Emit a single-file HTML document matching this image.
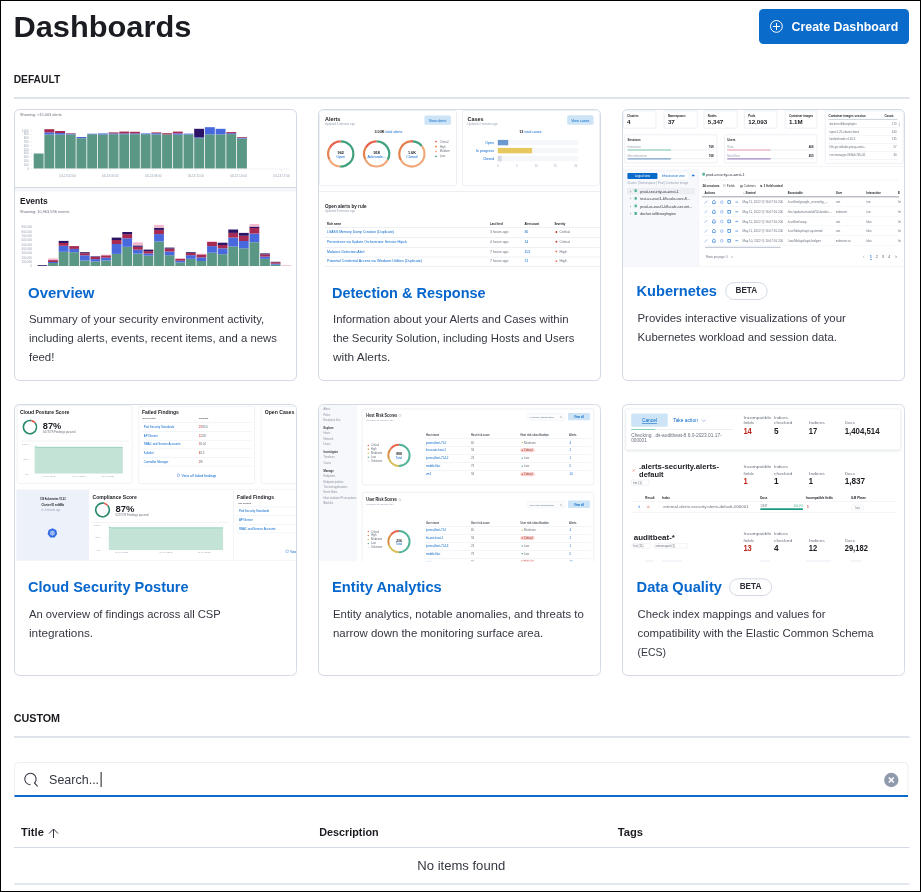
<!DOCTYPE html>
<html><head><meta charset="utf-8"><title>Dashboards</title>
<style>
html,body{margin:0;padding:0;background:#fff;width:921px;height:892px;overflow:hidden}
svg{position:absolute;left:0;top:0;display:block;font-family:'Liberation Sans', Arial, sans-serif}
</style></head><body>
<svg width="921" height="892" viewBox="0 0 921 892">
<text x="13.4" y="36.6" font-size="30" fill="#1A1C21" font-weight="700" textLength="178" lengthAdjust="spacingAndGlyphs">Dashboards</text>
<rect x="759" y="9" width="150" height="35" fill="#0B6BCB" rx="4.5"/>
<circle cx="776.4" cy="26.4" r="5.9" fill="none" stroke="#fff" stroke-width="1"/>
<path d="M776.5 23v7M773 26.5h7" stroke="#fff" stroke-width="1"/>
<text x="791.6" y="31" font-size="12.4" fill="#fff" font-weight="700" textLength="106.6" lengthAdjust="spacingAndGlyphs">Create Dashboard</text>
<text x="13.7" y="82.8" font-size="10.25" fill="#1A1C21" font-weight="700" textLength="46.5" lengthAdjust="spacingAndGlyphs">DEFAULT</text>
<rect x="14" y="97" width="895.5" height="2" fill="#DFE4EC"/>
<rect x="14.5" y="109.5" width="282" height="271" rx="5" fill="#fff" stroke="#D3DAE6" stroke-width="1"/>
<rect x="318.5" y="109.5" width="282" height="271" rx="5" fill="#fff" stroke="#D3DAE6" stroke-width="1"/>
<rect x="622.5" y="109.5" width="282" height="271" rx="5" fill="#fff" stroke="#D3DAE6" stroke-width="1"/>
<rect x="14.5" y="404.5" width="282" height="271" rx="5" fill="#fff" stroke="#D3DAE6" stroke-width="1"/>
<rect x="318.5" y="404.5" width="282" height="271" rx="5" fill="#fff" stroke="#D3DAE6" stroke-width="1"/>
<rect x="622.5" y="404.5" width="282" height="271" rx="5" fill="#fff" stroke="#D3DAE6" stroke-width="1"/>
<clipPath id="k0"><rect x="15" y="110" width="281" height="200" rx="4.5"/></clipPath><g clip-path="url(#k0)">
<text x="20" y="115.6" font-size="4" fill="#69707D" textLength="41.8" lengthAdjust="spacingAndGlyphs">Showing: &gt;15,003 alerts</text>
<text x="28.5" y="131.6" font-size="2.9" fill="#98A2B3" text-anchor="end">1000</text>
<path d="M30.5 130.5L32 130.5" stroke="#D8DCE3" stroke-width="0.5"/>
<text x="28.5" y="135.41" font-size="2.9" fill="#98A2B3" text-anchor="end">900</text>
<path d="M30.5 134.31L32 134.31" stroke="#D8DCE3" stroke-width="0.5"/>
<text x="28.5" y="139.22" font-size="2.9" fill="#98A2B3" text-anchor="end">800</text>
<path d="M30.5 138.12L32 138.12" stroke="#D8DCE3" stroke-width="0.5"/>
<text x="28.5" y="143.03" font-size="2.9" fill="#98A2B3" text-anchor="end">700</text>
<path d="M30.5 141.93L32 141.93" stroke="#D8DCE3" stroke-width="0.5"/>
<text x="28.5" y="146.84" font-size="2.9" fill="#98A2B3" text-anchor="end">600</text>
<path d="M30.5 145.74L32 145.74" stroke="#D8DCE3" stroke-width="0.5"/>
<text x="28.5" y="150.65" font-size="2.9" fill="#98A2B3" text-anchor="end">500</text>
<path d="M30.5 149.55L32 149.55" stroke="#D8DCE3" stroke-width="0.5"/>
<text x="28.5" y="154.46" font-size="2.9" fill="#98A2B3" text-anchor="end">400</text>
<path d="M30.5 153.36L32 153.36" stroke="#D8DCE3" stroke-width="0.5"/>
<text x="28.5" y="158.27" font-size="2.9" fill="#98A2B3" text-anchor="end">300</text>
<path d="M30.5 157.17L32 157.17" stroke="#D8DCE3" stroke-width="0.5"/>
<text x="28.5" y="162.08" font-size="2.9" fill="#98A2B3" text-anchor="end">200</text>
<path d="M30.5 160.98L32 160.98" stroke="#D8DCE3" stroke-width="0.5"/>
<text x="28.5" y="165.89" font-size="2.9" fill="#98A2B3" text-anchor="end">100</text>
<path d="M30.5 164.79L32 164.79" stroke="#D8DCE3" stroke-width="0.5"/>
<text x="28.5" y="169.7" font-size="2.9" fill="#98A2B3" text-anchor="end">0</text>
<path d="M30.5 168.6L32 168.6" stroke="#D8DCE3" stroke-width="0.5"/>
<rect x="33.7" y="153.5" width="9.9" height="15.1" fill="#5A9784"/>
<rect x="44.4" y="134.5" width="9.9" height="34.1" fill="#5A9784"/>
<rect x="44.4" y="132.4" width="9.9" height="2.1" fill="#4868DE"/>
<rect x="44.4" y="129.2" width="9.9" height="3.2" fill="#A62A52"/>
<rect x="55.1" y="134.5" width="9.9" height="34.1" fill="#5A9784"/>
<rect x="55.1" y="133" width="9.9" height="1.5" fill="#4868DE"/>
<rect x="55.1" y="131" width="9.9" height="2" fill="#A62A52"/>
<rect x="65.8" y="134.5" width="9.9" height="34.1" fill="#5A9784"/>
<rect x="65.8" y="133.7" width="9.9" height="0.8" fill="#4868DE"/>
<rect x="65.8" y="133.2" width="9.9" height="0.5" fill="#A62A52"/>
<rect x="76.5" y="138.2" width="9.9" height="30.4" fill="#5A9784"/>
<rect x="76.5" y="137" width="9.9" height="1.2" fill="#4868DE"/>
<rect x="87.2" y="134.2" width="9.9" height="34.4" fill="#5A9784"/>
<rect x="87.2" y="133.7" width="9.9" height="0.5" fill="#4868DE"/>
<rect x="97.9" y="134.5" width="9.9" height="34.1" fill="#5A9784"/>
<rect x="97.9" y="133.4" width="9.9" height="1.1" fill="#4868DE"/>
<rect x="108.6" y="134.2" width="9.9" height="34.4" fill="#5A9784"/>
<rect x="108.6" y="133.4" width="9.9" height="0.8" fill="#4868DE"/>
<rect x="108.6" y="132.4" width="9.9" height="1.0" fill="#A62A52"/>
<rect x="119.3" y="134.2" width="9.9" height="34.4" fill="#5A9784"/>
<rect x="119.3" y="133.4" width="9.9" height="0.8" fill="#4868DE"/>
<rect x="119.3" y="131.6" width="9.9" height="1.8" fill="#A62A52"/>
<rect x="130.0" y="134.2" width="9.9" height="34.4" fill="#5A9784"/>
<rect x="130.0" y="133.4" width="9.9" height="0.8" fill="#4868DE"/>
<rect x="130.0" y="131.8" width="9.9" height="1.6" fill="#A62A52"/>
<rect x="140.7" y="134.2" width="9.9" height="34.4" fill="#5A9784"/>
<rect x="140.7" y="133.4" width="9.9" height="0.8" fill="#4868DE"/>
<rect x="151.4" y="134.4" width="9.9" height="34.2" fill="#5A9784"/>
<rect x="151.4" y="133.2" width="9.9" height="1.2" fill="#4868DE"/>
<rect x="151.4" y="132.4" width="9.9" height="0.8" fill="#A62A52"/>
<rect x="162.1" y="134.4" width="9.9" height="34.2" fill="#5A9784"/>
<rect x="162.1" y="133.2" width="9.9" height="1.2" fill="#A62A52"/>
<rect x="172.8" y="134.7" width="9.9" height="33.9" fill="#5A9784"/>
<rect x="172.8" y="133.4" width="9.9" height="1.3" fill="#4868DE"/>
<rect x="172.8" y="131.6" width="9.9" height="1.8" fill="#A62A52"/>
<rect x="183.5" y="134.4" width="9.9" height="34.2" fill="#5A9784"/>
<rect x="183.5" y="133.6" width="9.9" height="0.8" fill="#4868DE"/>
<rect x="194.2" y="138.1" width="9.9" height="30.5" fill="#5A9784"/>
<rect x="194.2" y="137.3" width="9.9" height="0.8" fill="#4868DE"/>
<rect x="194.2" y="128.8" width="9.9" height="8.5" fill="#2B1466"/>
<rect x="204.9" y="134.4" width="9.9" height="34.2" fill="#5A9784"/>
<rect x="204.9" y="127.2" width="9.9" height="7.2" fill="#4868DE"/>
<rect x="215.6" y="134.4" width="9.9" height="34.2" fill="#5A9784"/>
<rect x="215.6" y="128.8" width="9.9" height="5.6" fill="#4868DE"/>
<rect x="226.3" y="134.1" width="9.9" height="34.5" fill="#5A9784"/>
<rect x="226.3" y="133.2" width="9.9" height="0.9" fill="#4868DE"/>
<rect x="226.3" y="132.1" width="9.9" height="1.1" fill="#A62A52"/>
<rect x="237.0" y="138.5" width="9.9" height="30.1" fill="#5A9784"/>
<rect x="237.0" y="137.7" width="9.9" height="0.8" fill="#4868DE"/>
<rect x="237.0" y="137" width="9.9" height="0.7" fill="#A62A52"/>
<path d="M33 168.9L290 168.9" stroke="#E6E9EE" stroke-width="0.5"/>
<path d="M67.7 169.5L67.7 171" stroke="#C9CED6" stroke-width="0.5"/>
<text x="67.7" y="177.3" font-size="3.1" fill="#98A2B3" text-anchor="middle">03-13 02:00</text>
<path d="M110.3 169.5L110.3 171" stroke="#C9CED6" stroke-width="0.5"/>
<text x="110.3" y="177.3" font-size="3.1" fill="#98A2B3" text-anchor="middle">03-13 05:00</text>
<path d="M153.2 169.5L153.2 171" stroke="#C9CED6" stroke-width="0.5"/>
<text x="153.2" y="177.3" font-size="3.1" fill="#98A2B3" text-anchor="middle">03-13 08:00</text>
<path d="M195.8 169.5L195.8 171" stroke="#C9CED6" stroke-width="0.5"/>
<text x="195.8" y="177.3" font-size="3.1" fill="#98A2B3" text-anchor="middle">03-13 11:00</text>
<path d="M238.4 169.5L238.4 171" stroke="#C9CED6" stroke-width="0.5"/>
<text x="238.4" y="177.3" font-size="3.1" fill="#98A2B3" text-anchor="middle">03-13 14:00</text>
<path d="M281.6 169.5L281.6 171" stroke="#C9CED6" stroke-width="0.5"/>
<text x="281.6" y="177.3" font-size="3.1" fill="#98A2B3" text-anchor="middle">03-13 17:00</text>
<rect x="15" y="187" width="281" height="1" fill="#D4D7DD"/>
<rect x="15" y="188" width="281" height="3.5" fill="#F4F5F8"/>
<text x="20" y="204" font-size="8.6" fill="#1A1C21" font-weight="700" textLength="27.8" lengthAdjust="spacingAndGlyphs">Events</text>
<text x="20" y="212.8" font-size="4" fill="#69707D" textLength="49.5" lengthAdjust="spacingAndGlyphs">Showing: 10,963,596 events</text>
<text x="32" y="228.4" font-size="2.9" fill="#98A2B3" text-anchor="end">900,000</text>
<text x="32" y="232.7" font-size="2.9" fill="#98A2B3" text-anchor="end">800,000</text>
<text x="32" y="237.0" font-size="2.9" fill="#98A2B3" text-anchor="end">700,000</text>
<text x="32" y="241.3" font-size="2.9" fill="#98A2B3" text-anchor="end">600,000</text>
<text x="32" y="245.6" font-size="2.9" fill="#98A2B3" text-anchor="end">500,000</text>
<text x="32" y="249.9" font-size="2.9" fill="#98A2B3" text-anchor="end">400,000</text>
<text x="32" y="254.2" font-size="2.9" fill="#98A2B3" text-anchor="end">300,000</text>
<text x="32" y="258.5" font-size="2.9" fill="#98A2B3" text-anchor="end">200,000</text>
<text x="32" y="262.8" font-size="2.9" fill="#98A2B3" text-anchor="end">100,000</text>
<text x="32" y="267.1" font-size="2.9" fill="#98A2B3" text-anchor="end">0</text>
<rect x="37.5" y="265.2" width="9.8" height="0.8" fill="#2B1466"/>
<rect x="48.1" y="263.0" width="9.8" height="3.0" fill="#5A9784"/>
<rect x="48.1" y="262" width="9.8" height="1.0" fill="#4868DE"/>
<rect x="48.1" y="260.1" width="9.8" height="1.9" fill="#A62A52"/>
<rect x="48.1" y="258.4" width="9.8" height="1.7" fill="#F2B8CB"/>
<rect x="58.7" y="251.8" width="9.8" height="14.2" fill="#5A9784"/>
<rect x="58.7" y="245.8" width="9.8" height="6.0" fill="#4868DE"/>
<rect x="58.7" y="243" width="9.8" height="2.8" fill="#A62A52"/>
<rect x="58.7" y="240.9" width="9.8" height="2.1" fill="#2B1466"/>
<rect x="69.3" y="252.2" width="9.8" height="13.8" fill="#5A9784"/>
<rect x="69.3" y="248.9" width="9.8" height="3.3" fill="#4868DE"/>
<rect x="69.3" y="246.1" width="9.8" height="2.8" fill="#A62A52"/>
<rect x="79.9" y="260.5" width="9.8" height="5.5" fill="#5A9784"/>
<rect x="79.9" y="255.3" width="9.8" height="5.2" fill="#4868DE"/>
<rect x="79.9" y="253.2" width="9.8" height="2.1" fill="#A62A52"/>
<rect x="79.9" y="252.2" width="9.8" height="1.0" fill="#2B1466"/>
<rect x="90.5" y="261.4" width="9.8" height="4.6" fill="#5A9784"/>
<rect x="90.5" y="259.1" width="9.8" height="2.3" fill="#4868DE"/>
<rect x="90.5" y="257" width="9.8" height="2.1" fill="#A62A52"/>
<rect x="90.5" y="256.4" width="9.8" height="0.6" fill="#2B1466"/>
<rect x="101.1" y="260.5" width="9.8" height="5.5" fill="#5A9784"/>
<rect x="101.1" y="257.7" width="9.8" height="2.8" fill="#4868DE"/>
<rect x="101.1" y="255.3" width="9.8" height="2.4" fill="#A62A52"/>
<rect x="101.1" y="254.7" width="9.8" height="0.6" fill="#F2B8CB"/>
<rect x="111.7" y="253.9" width="9.8" height="12.1" fill="#5A9784"/>
<rect x="111.7" y="244" width="9.8" height="9.9" fill="#4868DE"/>
<rect x="111.7" y="240" width="9.8" height="4" fill="#A62A52"/>
<rect x="111.7" y="237.6" width="9.8" height="2.4" fill="#2B1466"/>
<rect x="122.3" y="246.8" width="9.8" height="19.2" fill="#5A9784"/>
<rect x="122.3" y="238.3" width="9.8" height="8.5" fill="#4868DE"/>
<rect x="122.3" y="234.1" width="9.8" height="4.2" fill="#A62A52"/>
<rect x="122.3" y="232" width="9.8" height="2.1" fill="#2B1466"/>
<rect x="132.9" y="253.6" width="9.8" height="12.4" fill="#5A9784"/>
<rect x="132.9" y="249.7" width="9.8" height="3.9" fill="#4868DE"/>
<rect x="132.9" y="246.8" width="9.8" height="2.9" fill="#A62A52"/>
<rect x="132.9" y="245.4" width="9.8" height="1.4" fill="#2B1466"/>
<rect x="132.9" y="242.3" width="9.8" height="3.1" fill="#F2B8CB"/>
<rect x="143.5" y="255.6" width="9.8" height="10.4" fill="#5A9784"/>
<rect x="143.5" y="253.5" width="9.8" height="2.1" fill="#4868DE"/>
<rect x="143.5" y="251.1" width="9.8" height="2.4" fill="#A62A52"/>
<rect x="143.5" y="249.6" width="9.8" height="1.5" fill="#2B1466"/>
<rect x="154.1" y="241.5" width="9.8" height="24.5" fill="#5A9784"/>
<rect x="154.1" y="234.1" width="9.8" height="7.4" fill="#4868DE"/>
<rect x="154.1" y="229.9" width="9.8" height="4.2" fill="#A62A52"/>
<rect x="154.1" y="227.8" width="9.8" height="2.1" fill="#2B1466"/>
<rect x="154.1" y="224.9" width="9.8" height="2.9" fill="#F2B8CB"/>
<rect x="164.7" y="255.2" width="9.8" height="10.8" fill="#5A9784"/>
<rect x="164.7" y="251.5" width="9.8" height="3.7" fill="#4868DE"/>
<rect x="164.7" y="248.6" width="9.8" height="2.9" fill="#A62A52"/>
<rect x="164.7" y="247.6" width="9.8" height="1.0" fill="#2B1466"/>
<rect x="175.3" y="262.5" width="9.8" height="3.5" fill="#5A9784"/>
<rect x="175.3" y="260.7" width="9.8" height="1.8" fill="#4868DE"/>
<rect x="175.3" y="258.8" width="9.8" height="1.9" fill="#A62A52"/>
<rect x="175.3" y="258.1" width="9.8" height="0.7" fill="#F2B8CB"/>
<rect x="185.9" y="258.8" width="9.8" height="7.2" fill="#5A9784"/>
<rect x="185.9" y="255.2" width="9.8" height="3.6" fill="#4868DE"/>
<rect x="185.9" y="253" width="9.8" height="2.2" fill="#A62A52"/>
<rect x="185.9" y="252.2" width="9.8" height="0.8" fill="#2B1466"/>
<rect x="196.5" y="261" width="9.8" height="5" fill="#5A9784"/>
<rect x="196.5" y="257.4" width="9.8" height="3.6" fill="#4868DE"/>
<rect x="196.5" y="254.4" width="9.8" height="3.0" fill="#A62A52"/>
<rect x="196.5" y="253.7" width="9.8" height="0.7" fill="#F2B8CB"/>
<rect x="207.1" y="252.7" width="9.8" height="13.3" fill="#5A9784"/>
<rect x="207.1" y="246.1" width="9.8" height="6.6" fill="#4868DE"/>
<rect x="207.1" y="242" width="9.8" height="4.1" fill="#A62A52"/>
<rect x="207.1" y="241.3" width="9.8" height="0.7" fill="#F2B8CB"/>
<rect x="217.7" y="254.2" width="9.8" height="11.8" fill="#5A9784"/>
<rect x="217.7" y="248.3" width="9.8" height="5.9" fill="#4868DE"/>
<rect x="217.7" y="245" width="9.8" height="3.3" fill="#A62A52"/>
<rect x="217.7" y="242.7" width="9.8" height="2.3" fill="#2B1466"/>
<rect x="228.3" y="246.4" width="9.8" height="19.6" fill="#5A9784"/>
<rect x="228.3" y="237.6" width="9.8" height="8.8" fill="#4868DE"/>
<rect x="228.3" y="232.9" width="9.8" height="4.7" fill="#A62A52"/>
<rect x="228.3" y="229.5" width="9.8" height="3.4" fill="#2B1466"/>
<rect x="238.9" y="248.3" width="9.8" height="17.7" fill="#5A9784"/>
<rect x="238.9" y="241" width="9.8" height="7.3" fill="#4868DE"/>
<rect x="238.9" y="235.8" width="9.8" height="5.2" fill="#A62A52"/>
<rect x="238.9" y="232.9" width="9.8" height="2.9" fill="#2B1466"/>
<rect x="249.5" y="242.3" width="9.8" height="23.7" fill="#5A9784"/>
<rect x="249.5" y="233.6" width="9.8" height="8.7" fill="#4868DE"/>
<rect x="249.5" y="228" width="9.8" height="5.6" fill="#A62A52"/>
<rect x="249.5" y="226.6" width="9.8" height="1.4" fill="#2B1466"/>
<rect x="249.5" y="224.1" width="9.8" height="2.5" fill="#F2B8CB"/>
<rect x="260.1" y="258.8" width="9.8" height="7.2" fill="#5A9784"/>
<rect x="260.1" y="256.6" width="9.8" height="2.2" fill="#4868DE"/>
<rect x="260.1" y="254.4" width="9.8" height="2.2" fill="#A62A52"/>
<rect x="260.1" y="253.4" width="9.8" height="1.0" fill="#2B1466"/>
<rect x="270.7" y="264.7" width="9.8" height="1.3" fill="#5A9784"/>
<rect x="270.7" y="263.7" width="9.8" height="1.0" fill="#4868DE"/>
<rect x="270.7" y="262.2" width="9.8" height="1.5" fill="#A62A52"/>
<rect x="270.7" y="261.8" width="9.8" height="0.4" fill="#2B1466"/>
<rect x="281.3" y="265.2" width="9.8" height="0.8" fill="#F2B8CB"/>
</g>
<clipPath id="k1"><rect x="319" y="110" width="281" height="200" rx="4.5"/></clipPath><g clip-path="url(#k1)">
<rect x="319.5" y="110.5" width="137" height="75" rx="2" fill="#fff" stroke="#ECEFF4"/>
<rect x="462.5" y="110.5" width="137" height="75" rx="2" fill="#fff" stroke="#ECEFF4"/>
<rect x="319" y="191" width="281" height="1" fill="#ECEFF4"/>
<text x="325" y="120.8" font-size="5.4" fill="#1A1C21" font-weight="700">Alerts</text>
<text x="325" y="125.3" font-size="2.9" fill="#98A2B3">Updated 3 minutes ago</text>
<rect x="424.4" y="115.4" width="26.5" height="9.3" fill="#CCE4F5" rx="1.5"/>
<text x="437.6" y="121.5" font-size="3.6" fill="#0767CD" text-anchor="middle">View alerts</text>
<text x="384.6" y="133" font-size="3.8" fill="#1A1C21" font-weight="700" text-anchor="end">3.03K</text>
<text x="385.6" y="133" font-size="3.6" fill="#0767CD">total alerts</text>
<path d="M340.70 141.30A12.6 12.6 0 1 1 340.04 166.48" fill="none" stroke="#3FA07C" stroke-width="2.2"/>
<path d="M340.04 166.48A12.6 12.6 0 0 1 329.28 159.22" fill="none" stroke="#F0A97B" stroke-width="2.2"/>
<path d="M329.28 159.22A12.6 12.6 0 0 1 329.79 147.60" fill="none" stroke="#E2834F" stroke-width="2.2"/>
<path d="M329.79 147.60A12.6 12.6 0 0 1 340.70 141.30" fill="none" stroke="#E7604B" stroke-width="2.2"/>
<path d="M376.60 141.30A12.6 12.6 0 0 1 387.73 159.82" fill="none" stroke="#3FA07C" stroke-width="2.2"/>
<path d="M387.73 159.82A12.6 12.6 0 0 1 365.18 159.22" fill="none" stroke="#F0A97B" stroke-width="2.2"/>
<path d="M365.18 159.22A12.6 12.6 0 0 1 365.69 147.60" fill="none" stroke="#E2834F" stroke-width="2.2"/>
<path d="M365.69 147.60A12.6 12.6 0 0 1 376.60 141.30" fill="none" stroke="#E7604B" stroke-width="2.2"/>
<path d="M410.15 141.42A12.6 12.6 0 0 1 413.00 141.35" fill="none" stroke="#E7604B" stroke-width="2.2"/>
<path d="M413.00 141.35A12.6 12.6 0 0 1 421.83 146.14" fill="none" stroke="#3FA07C" stroke-width="2.2"/>
<path d="M421.83 146.14A12.6 12.6 0 1 1 400.99 160.20" fill="none" stroke="#F0A97B" stroke-width="2.2"/>
<path d="M400.99 160.20A12.6 12.6 0 0 1 410.15 141.42" fill="none" stroke="#E2834F" stroke-width="2.2"/>
<text x="340.7" y="153.6" font-size="3.8" fill="#1A1C21" font-weight="700" text-anchor="middle">962</text>
<text x="340.7" y="157.6" font-size="3.6" fill="#0767CD" text-anchor="middle">Open</text>
<text x="376.6" y="153.6" font-size="3.8" fill="#1A1C21" font-weight="700" text-anchor="middle">958</text>
<text x="376.6" y="157.6" font-size="3.6" fill="#0767CD" text-anchor="middle">Acknowle...</text>
<text x="411.9" y="153.6" font-size="3.8" fill="#1A1C21" font-weight="700" text-anchor="middle">1.6K</text>
<text x="411.9" y="157.6" font-size="3.6" fill="#0767CD" text-anchor="middle">Closed</text>
<circle cx="436" cy="141.6" r="0.9" fill="#E7604B"/>
<text x="439.8" y="142.6" font-size="2.8" fill="#69707D">Critical</text>
<circle cx="436" cy="146.5" r="0.9" fill="#E2834F"/>
<text x="439.8" y="147.5" font-size="2.8" fill="#69707D">High</text>
<circle cx="436" cy="151.4" r="0.9" fill="#F0A97B"/>
<text x="439.8" y="152.4" font-size="2.8" fill="#69707D">Medium</text>
<circle cx="436" cy="156.29999999999998" r="0.9" fill="#3FA07C"/>
<text x="439.8" y="157.3" font-size="2.8" fill="#69707D">Low</text>
<text x="467.5" y="120.8" font-size="5.4" fill="#1A1C21" font-weight="700">Cases</text>
<text x="467.5" y="125.3" font-size="2.9" fill="#98A2B3">Updated 2 minutes ago</text>
<rect x="567.2" y="115.2" width="26.3" height="9.6" fill="#CCE4F5" rx="1.5"/>
<text x="580.3" y="121.5" font-size="3.6" fill="#0767CD" text-anchor="middle">View cases</text>
<text x="523.4" y="133.3" font-size="3.8" fill="#1A1C21" font-weight="700" text-anchor="end">13</text>
<text x="524.4" y="133.3" font-size="3.6" fill="#0767CD">total cases</text>
<rect x="497.8" y="139.9" width="80.4" height="5.4" fill="#F5F7FA"/>
<rect x="497.8" y="139.9" width="10.4" height="5.4" fill="#6C98D0"/>
<text x="494.1" y="144.0" font-size="3.6" fill="#0767CD" text-anchor="end">Open</text>
<rect x="497.8" y="147.9" width="80.4" height="5.4" fill="#F5F7FA"/>
<rect x="497.8" y="147.9" width="34.3" height="5.4" fill="#E6C85E"/>
<text x="494.1" y="152.0" font-size="3.6" fill="#0767CD" text-anchor="end">In progress</text>
<rect x="497.8" y="155.9" width="80.4" height="5.4" fill="#F5F7FA"/>
<rect x="497.8" y="155.9" width="3.8" height="5.4" fill="#D3DAE6"/>
<text x="494.1" y="160.0" font-size="3.6" fill="#0767CD" text-anchor="end">Closed</text>
<text x="498" y="166.5" font-size="2.6" fill="#98A2B3" text-anchor="middle">0</text>
<text x="517" y="166.5" font-size="2.6" fill="#98A2B3" text-anchor="middle">5</text>
<text x="536" y="166.5" font-size="2.6" fill="#98A2B3" text-anchor="middle">10</text>
<text x="555.2" y="166.5" font-size="2.6" fill="#98A2B3" text-anchor="middle">15</text>
<text x="575.7" y="166.5" font-size="2.6" fill="#98A2B3" text-anchor="middle">20</text>
<text x="325" y="208" font-size="5.6" fill="#1A1C21" font-weight="700" textLength="41.5" lengthAdjust="spacingAndGlyphs">Open alerts by rule</text>
<text x="325" y="212.4" font-size="2.9" fill="#98A2B3">Updated 8 minutes ago</text>
<text x="327" y="224.6" font-size="2.8" fill="#1A1C21" font-weight="700">Rule name</text>
<text x="490" y="224.6" font-size="2.8" fill="#1A1C21" font-weight="700">Last fired</text>
<text x="524.4" y="224.6" font-size="2.8" fill="#1A1C21" font-weight="700">Alert count</text>
<text x="554.4" y="224.6" font-size="2.8" fill="#1A1C21" font-weight="700">Severity</text>
<rect x="324.8" y="227.4" width="275" height="0.6" fill="#E3E7ED"/>
<rect x="324.8" y="237.4" width="275" height="0.6" fill="#E3E7ED"/>
<rect x="324.8" y="247.4" width="275" height="0.6" fill="#E3E7ED"/>
<rect x="324.8" y="256.7" width="275" height="0.6" fill="#E3E7ED"/>
<rect x="324.8" y="266.3" width="275" height="0.6" fill="#E3E7ED"/>
<text x="327" y="233.2" font-size="3.5" fill="#0767CD" textLength="67" lengthAdjust="spacingAndGlyphs">LSASS Memory Dump Creation (Duplicate)</text>
<text x="490" y="233.2" font-size="3.5" fill="#69707D">3 hours ago</text>
<text x="524.4" y="233.2" font-size="3.5" fill="#0767CD">30</text>
<circle cx="556.4" cy="232.00" r="0.9" fill="#BD271E"/>
<text x="559.4" y="233.2" font-size="3.5" fill="#69707D">Critical</text>
<text x="327" y="242.9" font-size="3.5" fill="#0767CD" textLength="80" lengthAdjust="spacingAndGlyphs">Persistence via Update Orchestrator Service Hijack</text>
<text x="490" y="242.9" font-size="3.5" fill="#69707D">4 hours ago</text>
<text x="524.4" y="242.9" font-size="3.5" fill="#0767CD">14</text>
<circle cx="556.4" cy="241.70" r="0.9" fill="#BD271E"/>
<text x="559.4" y="242.9" font-size="3.5" fill="#69707D">Critical</text>
<text x="327" y="252.6" font-size="3.5" fill="#0767CD" textLength="37.6" lengthAdjust="spacingAndGlyphs">Malware Detection Alert</text>
<text x="490" y="252.6" font-size="3.5" fill="#69707D">7 hours ago</text>
<text x="524.4" y="252.6" font-size="3.5" fill="#0767CD">113</text>
<circle cx="556.4" cy="251.40" r="0.9" fill="#E7664C"/>
<text x="559.4" y="252.6" font-size="3.5" fill="#69707D">High</text>
<text x="327" y="262.3" font-size="3.5" fill="#0767CD" textLength="95" lengthAdjust="spacingAndGlyphs">Potential Credential Access via Windows Utilities (Duplicate)</text>
<text x="490" y="262.3" font-size="3.5" fill="#69707D">7 hours ago</text>
<text x="524.4" y="262.3" font-size="3.5" fill="#0767CD">21</text>
<circle cx="556.4" cy="261.10" r="0.9" fill="#E7664C"/>
<text x="559.4" y="262.3" font-size="3.5" fill="#69707D">High</text>
</g>
<clipPath id="k2"><rect x="623" y="110" width="281" height="200" rx="4.5"/></clipPath><g clip-path="url(#k2)">
<rect x="623.3" y="110.8" width="32.700000000000045" height="17.4" rx="1" fill="#fff" stroke="#E6EAF0" stroke-width="0.7"/>
<text x="627.1" y="116.6" font-size="2.9" fill="#1A1C21" font-weight="600">Clusters</text>
<text x="627.1" y="124.4" font-size="6.2" fill="#1A1C21" font-weight="700">4</text>
<rect x="664.1" y="110.8" width="33.19999999999993" height="17.4" rx="1" fill="#fff" stroke="#E6EAF0" stroke-width="0.7"/>
<text x="667.9" y="116.6" font-size="2.9" fill="#1A1C21" font-weight="600">Namespaces</text>
<text x="667.9" y="124.4" font-size="6.2" fill="#1A1C21" font-weight="700">37</text>
<rect x="704.0" y="110.8" width="33.200000000000045" height="17.4" rx="1" fill="#fff" stroke="#E6EAF0" stroke-width="0.7"/>
<text x="707.8" y="116.6" font-size="2.9" fill="#1A1C21" font-weight="600">Nodes</text>
<text x="707.8" y="124.4" font-size="6.2" fill="#1A1C21" font-weight="700">5,347</text>
<rect x="744.4" y="110.8" width="32.5" height="17.4" rx="1" fill="#fff" stroke="#E6EAF0" stroke-width="0.7"/>
<text x="748.2" y="116.6" font-size="2.9" fill="#1A1C21" font-weight="600">Pods</text>
<text x="748.2" y="124.4" font-size="6.2" fill="#1A1C21" font-weight="700">12,093</text>
<rect x="785.1" y="110.8" width="31.799999999999955" height="17.4" rx="1" fill="#fff" stroke="#E6EAF0" stroke-width="0.7"/>
<text x="788.9" y="116.6" font-size="2.9" fill="#1A1C21" font-weight="600">Container images</text>
<text x="788.9" y="124.4" font-size="6.2" fill="#1A1C21" font-weight="700">1.1M</text>
<rect x="624.8" y="134.8" width="92.20000000000005" height="28" rx="1" fill="#fff" stroke="#E6EAF0" stroke-width="0.7"/>
<text x="627.5" y="140.6" font-size="3" fill="#1A1C21" font-weight="700">Sessions</text>
<text x="627.5" y="147.9" font-size="2.9" fill="#98A2B3">Interactive</text>
<text x="713.7" y="147.9" font-size="2.9" fill="#1A1C21" font-weight="700" text-anchor="end">769</text>
<rect x="627.5" y="149.6" width="86.20000000000005" height="0.7" fill="#E3E8F0"/>
<rect x="627.5" y="149.5" width="43.4" height="1.0" fill="#7BC8A8"/>
<text x="627.5" y="156.8" font-size="2.9" fill="#98A2B3">Non-interactive</text>
<text x="713.7" y="156.8" font-size="2.9" fill="#1A1C21" font-weight="700" text-anchor="end">768</text>
<rect x="627.5" y="158.5" width="86.20000000000005" height="0.7" fill="#E3E8F0"/>
<rect x="627.5" y="158.4" width="43.4" height="1.0" fill="#6092C0"/>
<rect x="724.5" y="134.8" width="92.39999999999998" height="28" rx="1" fill="#fff" stroke="#E6EAF0" stroke-width="0.7"/>
<text x="727.2" y="140.6" font-size="3" fill="#1A1C21" font-weight="700">Users</text>
<text x="727.2" y="147.9" font-size="2.9" fill="#98A2B3">Root</text>
<text x="813.6" y="147.9" font-size="2.9" fill="#1A1C21" font-weight="700" text-anchor="end">466</text>
<rect x="727.2" y="149.6" width="86.39999999999998" height="0.7" fill="#E3E8F0"/>
<rect x="727.2" y="149.5" width="43.4" height="1.0" fill="#EE9AAE"/>
<text x="727.2" y="156.8" font-size="2.9" fill="#98A2B3">Non-Root</text>
<text x="813.6" y="156.8" font-size="2.9" fill="#1A1C21" font-weight="700" text-anchor="end">455</text>
<rect x="727.2" y="158.5" width="86.39999999999998" height="0.7" fill="#E3E8F0"/>
<rect x="727.2" y="158.4" width="43.4" height="1.0" fill="#9170B8"/>
<rect x="825.2" y="110.9" width="78" height="52.5" rx="1" fill="#fff" stroke="#E6EAF0" stroke-width="0.7"/>
<text x="828.5" y="116.6" font-size="3" fill="#1A1C21" font-weight="700">Container images session</text>
<text x="884.4" y="116.6" font-size="3" fill="#1A1C21" font-weight="700">Count</text>
<text x="893" y="116.6" font-size="3" fill="#1A1C21" font-weight="700">↓</text>
<rect x="828.5" y="118.9" width="69" height="0.9" fill="#C5CAD3"/>
<text x="829.5" y="124.6" font-size="2.8" fill="#69707D">docker.io/library/nginx</text>
<text x="896.5" y="124.6" font-size="2.8" fill="#69707D" text-anchor="end">170</text>
<rect x="828.5" y="127.5" width="69" height="0.5" fill="#E8EBF0"/>
<text x="829.5" y="132.5" font-size="2.8" fill="#69707D">nginx:1.25-ubuntu:latest</text>
<text x="896.5" y="132.5" font-size="2.8" fill="#69707D" text-anchor="end">344</text>
<rect x="828.5" y="135.4" width="69" height="0.5" fill="#E8EBF0"/>
<text x="829.5" y="140.4" font-size="2.8" fill="#69707D">kindest/node:v1.26.3</text>
<text x="896.5" y="140.4" font-size="2.8" fill="#69707D" text-anchor="end">135</text>
<rect x="828.5" y="143.3" width="69" height="0.5" fill="#E8EBF0"/>
<text x="829.5" y="148.3" font-size="2.8" fill="#69707D">k8s.gcr.io/kube-proxy-conta...</text>
<text x="896.5" y="148.3" font-size="2.8" fill="#69707D" text-anchor="end">57</text>
<rect x="828.5" y="151.2" width="69" height="0.5" fill="#E8EBF0"/>
<text x="829.5" y="156.2" font-size="2.8" fill="#69707D">cert-manager-7d9b4c7d5-t11</text>
<text x="896.5" y="156.2" font-size="2.8" fill="#69707D" text-anchor="end">30</text>
<rect x="828.5" y="159.1" width="69" height="0.5" fill="#E8EBF0"/>
<rect x="898.8" y="122.2" width="0.9" height="4.6" fill="#C5CAD3"/>
<rect x="623" y="166.2" width="281" height="0.6" fill="#EEF0F4"/>
<rect x="623" y="169" width="75.6" height="97.7" fill="#F7F8FC"/>
<rect x="698.6" y="169" width="0.6" height="97.7" fill="#EEF0F4"/>
<rect x="623" y="266.5" width="281" height="0.6" fill="#EEF0F4"/>
<rect x="627.4" y="173.1" width="30" height="5.9" fill="#0B6BCB" rx="0.8"/>
<text x="642.4" y="177" font-size="2.8" fill="#fff" text-anchor="middle">Logical view</text>
<rect x="658.2" y="172.8" width="29.8" height="6.3" fill="#fff" rx="0.8"/>
<text x="673.1" y="177" font-size="2.8" fill="#0767CD" text-anchor="middle">Infrastructure view</text>
<text x="691.5" y="177.1" font-size="3" fill="#0767CD">⇄</text>
<text x="627.2" y="184" font-size="2.7" fill="#98A2B3" textLength="61" lengthAdjust="spacingAndGlyphs">Cluster | Namespace | Pod | Container image</text>
<rect x="627.1" y="187.9" width="67.8" height="6.7" fill="#EBEEF3" rx="0.8"/>
<text x="630" y="192.6" font-size="4" fill="#69707D">›</text>
<rect x="634.5" y="189.3" width="2.4" height="2.8" fill="#54B399" rx="0.4"/>
<text x="640.2" y="192.6" font-size="3.7" fill="#343741">prod-security-us-west-1</text>
<text x="630" y="200.2" font-size="4" fill="#69707D">›</text>
<rect x="634.5" y="196.9" width="2.4" height="2.8" fill="#54B399" rx="0.4"/>
<text x="640.2" y="200.2" font-size="3.7" fill="#343741">test-us-east1-k8scale-core-8...</text>
<text x="630" y="207.8" font-size="4" fill="#69707D">›</text>
<rect x="634.5" y="204.5" width="2.4" height="2.8" fill="#54B399" rx="0.4"/>
<text x="640.2" y="207.8" font-size="3.7" fill="#343741">prod-us-east1-k8scale-securit...</text>
<text x="630" y="215.4" font-size="4" fill="#69707D">›</text>
<rect x="634.5" y="212.1" width="2.4" height="2.8" fill="#54B399" rx="0.4"/>
<text x="640.2" y="215.4" font-size="3.7" fill="#343741">docker.io/library/nginx</text>
<rect x="702.5" y="172.8" width="2.3" height="2.9" fill="#54B399" rx="0.4"/>
<text x="706" y="176.2" font-size="3.7" fill="#343741">prod-security-us-west-1</text>
<rect x="702" y="179.7" width="196" height="0.5" fill="#E3E7ED"/>
<text x="702.4" y="187.3" font-size="3" fill="#1A1C21" font-weight="700">24 sessions</text>
<text x="723" y="187.3" font-size="3" fill="#343741">☷ Fields</text>
<text x="740" y="187.3" font-size="3" fill="#343741">▤ Columns</text>
<text x="760" y="187.3" font-size="3" fill="#1A1C21" font-weight="700">⇅ 1 field sorted</text>
<text x="704.5" y="194.2" font-size="2.9" fill="#1A1C21" font-weight="600">Actions</text>
<text x="743.3" y="194.2" font-size="2.9" fill="#1A1C21" font-weight="600">↓ Started</text>
<text x="787.7" y="194.2" font-size="2.9" fill="#1A1C21" font-weight="600">Executable</text>
<text x="835.8" y="194.2" font-size="2.9" fill="#1A1C21" font-weight="600">User</text>
<text x="866.3" y="194.2" font-size="2.9" fill="#1A1C21" font-weight="600">Interactive</text>
<text x="898" y="194.2" font-size="2.9" fill="#1A1C21" font-weight="600">E</text>
<rect x="702" y="196.1" width="197" height="1.3" fill="#B2B7BF"/>
<path d="M704.6 203.60l2.6 -2.8" stroke="#6C9BE6" stroke-width="0.6"/>
<path d="M712.6 203.70v-2.2l1.3 -1.4 1.3 1.4v2.2z" fill="none" stroke="#0767CD" stroke-width="0.6"/>
<circle cx="721.8" cy="202.20" r="1.3" fill="none" stroke="#6C9BE6" stroke-width="0.6"/>
<rect x="727.9" y="200.70" width="2.6" height="2.8" fill="none" stroke="#0767CD" stroke-width="0.6"/>
<path d="M735.4 202.10h2.8" stroke="#0767CD" stroke-width="0.6"/>
<text x="742.5" y="203.3" font-size="2.6" fill="#69707D" textLength="40.5" lengthAdjust="spacingAndGlyphs">May 11, 2022 @ 16:07:16.200</text>
<text x="787.7" y="203.3" font-size="2.6" fill="#69707D" textLength="40.6" lengthAdjust="spacingAndGlyphs">/usr/bin/google_osconfig_...</text>
<text x="835.8" y="203.3" font-size="2.6" fill="#69707D">root</text>
<text x="866.3" y="203.3" font-size="2.6" fill="#69707D">true</text>
<text x="898" y="203.3" font-size="2.6" fill="#69707D">Int</text>
<rect x="702" y="206.3" width="196" height="0.5" fill="#ECEFF3"/>
<path d="M704.6 213.25l2.6 -2.8" stroke="#6C9BE6" stroke-width="0.6"/>
<path d="M712.6 213.35v-2.2l1.3 -1.4 1.3 1.4v2.2z" fill="none" stroke="#0767CD" stroke-width="0.6"/>
<circle cx="721.8" cy="211.85" r="1.3" fill="none" stroke="#6C9BE6" stroke-width="0.6"/>
<rect x="727.9" y="210.35" width="2.6" height="2.8" fill="none" stroke="#0767CD" stroke-width="0.6"/>
<path d="M735.4 211.75h2.8" stroke="#0767CD" stroke-width="0.6"/>
<text x="742.5" y="212.95" font-size="2.6" fill="#69707D" textLength="40.5" lengthAdjust="spacingAndGlyphs">May 11, 2022 @ 16:07:16.200</text>
<text x="787.7" y="212.95" font-size="2.6" fill="#69707D" textLength="44" lengthAdjust="spacingAndGlyphs">/etc/update-motd.d/50-landsc...</text>
<text x="835.8" y="212.95" font-size="2.6" fill="#69707D">mdmaster</text>
<text x="866.3" y="212.95" font-size="2.6" fill="#69707D">true</text>
<text x="898" y="212.95" font-size="2.6" fill="#69707D">Int</text>
<rect x="702" y="215.95" width="196" height="0.5" fill="#ECEFF3"/>
<path d="M704.6 222.90l2.6 -2.8" stroke="#6C9BE6" stroke-width="0.6"/>
<path d="M712.6 223.00v-2.2l1.3 -1.4 1.3 1.4v2.2z" fill="none" stroke="#0767CD" stroke-width="0.6"/>
<circle cx="721.8" cy="221.50" r="1.3" fill="none" stroke="#6C9BE6" stroke-width="0.6"/>
<rect x="727.9" y="220.00" width="2.6" height="2.8" fill="none" stroke="#0767CD" stroke-width="0.6"/>
<path d="M735.4 221.40h2.8" stroke="#0767CD" stroke-width="0.6"/>
<text x="742.5" y="222.6" font-size="2.6" fill="#69707D" textLength="40.5" lengthAdjust="spacingAndGlyphs">May 11, 2022 @ 16:07:16.200</text>
<text x="787.7" y="222.6" font-size="2.6" fill="#69707D" textLength="18.849999999999998" lengthAdjust="spacingAndGlyphs">/usr/bin/snap</text>
<text x="835.8" y="222.6" font-size="2.6" fill="#69707D">root</text>
<text x="866.3" y="222.6" font-size="2.6" fill="#69707D">false</text>
<text x="898" y="222.6" font-size="2.6" fill="#69707D">Int</text>
<rect x="702" y="225.6" width="196" height="0.5" fill="#ECEFF3"/>
<path d="M704.6 232.55l2.6 -2.8" stroke="#6C9BE6" stroke-width="0.6"/>
<path d="M712.6 232.65v-2.2l1.3 -1.4 1.3 1.4v2.2z" fill="none" stroke="#0767CD" stroke-width="0.6"/>
<circle cx="721.8" cy="231.15" r="1.3" fill="none" stroke="#6C9BE6" stroke-width="0.6"/>
<rect x="727.9" y="229.65" width="2.6" height="2.8" fill="none" stroke="#0767CD" stroke-width="0.6"/>
<path d="M735.4 231.05h2.8" stroke="#0767CD" stroke-width="0.6"/>
<text x="742.5" y="232.25" font-size="2.6" fill="#69707D" textLength="40.5" lengthAdjust="spacingAndGlyphs">May 11, 2022 @ 16:07:16.200</text>
<text x="787.7" y="232.25" font-size="2.6" fill="#69707D" textLength="34.8" lengthAdjust="spacingAndGlyphs">/usr/lib/apt/apt.systemd</text>
<text x="835.8" y="232.25" font-size="2.6" fill="#69707D">root</text>
<text x="866.3" y="232.25" font-size="2.6" fill="#69707D">false</text>
<text x="898" y="232.25" font-size="2.6" fill="#69707D">Int</text>
<rect x="702" y="235.25" width="196" height="0.5" fill="#ECEFF3"/>
<path d="M704.6 242.20l2.6 -2.8" stroke="#6C9BE6" stroke-width="0.6"/>
<path d="M712.6 242.30v-2.2l1.3 -1.4 1.3 1.4v2.2z" fill="none" stroke="#0767CD" stroke-width="0.6"/>
<circle cx="721.8" cy="240.80" r="1.3" fill="none" stroke="#6C9BE6" stroke-width="0.6"/>
<rect x="727.9" y="239.30" width="2.6" height="2.8" fill="none" stroke="#0767CD" stroke-width="0.6"/>
<path d="M735.4 240.70h2.8" stroke="#0767CD" stroke-width="0.6"/>
<text x="742.5" y="241.9" font-size="2.6" fill="#69707D" textLength="40.5" lengthAdjust="spacingAndGlyphs">May 10, 2022 @ 10:07:16.200</text>
<text x="787.7" y="241.9" font-size="2.6" fill="#69707D" textLength="33.35" lengthAdjust="spacingAndGlyphs">/usr/lib/apt/apt-helper</text>
<text x="835.8" y="241.9" font-size="2.6" fill="#69707D">mdmaster.sa</text>
<text x="866.3" y="241.9" font-size="2.6" fill="#69707D">false</text>
<text x="898" y="241.9" font-size="2.6" fill="#69707D">Int</text>
<rect x="702" y="244.9" width="196" height="0.5" fill="#ECEFF3"/>
<rect x="705" y="246.8" width="75.8" height="1.2" fill="#C5CCD8" rx="0.6"/>
<text x="705.9" y="257.8" font-size="2.8" fill="#69707D">Rows per page: 5</text>
<text x="730.5" y="258" font-size="2.8" fill="#69707D">∨</text>
<text x="863.8" y="258.3" font-size="4.5" fill="#98A2B3" text-anchor="middle">‹</text>
<text x="871" y="258.2" font-size="3.2" fill="#0767CD" font-weight="700" text-anchor="middle">1</text>
<rect x="870" y="259.2" width="2" height="0.5" fill="#0767CD"/>
<text x="876.8" y="258.2" font-size="3.2" fill="#343741" text-anchor="middle">2</text>
<text x="882.9" y="258.2" font-size="3.2" fill="#343741" text-anchor="middle">3</text>
<text x="889.2" y="258.2" font-size="3.2" fill="#343741" text-anchor="middle">4</text>
<text x="896" y="258.3" font-size="4.5" fill="#343741" text-anchor="middle">›</text>
</g>
<clipPath id="k3"><rect x="15" y="405" width="281" height="200" rx="4.5"/></clipPath><g clip-path="url(#k3)">
<rect x="17.2" y="405.7" width="114.89999999999999" height="77.69999999999999" rx="2" fill="#fff" stroke="#E8ECF2" stroke-width="0.7"/>
<rect x="138.8" y="406.3" width="115.79999999999998" height="77.39999999999998" rx="2" fill="#fff" stroke="#E8ECF2" stroke-width="0.7"/>
<rect x="261.2" y="406.3" width="38.30000000000001" height="77.39999999999998" rx="2" fill="#fff" stroke="#E8ECF2" stroke-width="0.7"/>
<text x="19.9" y="414.1" font-size="5.6" fill="#1A1C21" font-weight="700" textLength="49.5" lengthAdjust="spacingAndGlyphs">Cloud Posture Score</text>
<path d="M35.06 422.86A6.6 6.6 0 1 1 31.37 420.64" fill="none" stroke="#25896A" stroke-width="1.6"/>
<path d="M31.37 420.64A6.6 6.6 0 0 1 35.06 422.86" fill="none" stroke="#E0574A" stroke-width="1.6"/>
<text x="42.8" y="428.5" font-size="9.8" fill="#1A1C21" font-weight="700" textLength="18.5" lengthAdjust="spacingAndGlyphs">87%</text>
<text x="42.8" y="432.6" font-size="2.6" fill="#69707D" textLength="32.5" lengthAdjust="spacingAndGlyphs">507/578 Findings passed</text>
<rect x="19.9" y="440.8" width="109.3" height="0.5" fill="#E3E7ED"/>
<text x="28.5" y="445.2" font-size="2.5" fill="#98A2B3" text-anchor="end">100%</text>
<path d="M30 444.30H122.8" stroke="#E9ECF1" stroke-width="0.4" stroke-dasharray="1 1"/>
<text x="28.5" y="459.85" font-size="2.5" fill="#98A2B3" text-anchor="end">50%</text>
<path d="M30 458.95H122.8" stroke="#E9ECF1" stroke-width="0.4" stroke-dasharray="1 1"/>
<text x="28.5" y="474.5" font-size="2.5" fill="#98A2B3" text-anchor="end">0%</text>
<path d="M30 473.60H122.8" stroke="#E9ECF1" stroke-width="0.4" stroke-dasharray="1 1"/>
<path d="M34.7 446.30L37.2 447.30H122.8V473.6H34.7Z" fill="#C3E3D7"/>
<path d="M34.7 446.30L37.2 447.30H122.8" fill="none" stroke="#6DBFA3" stroke-width="0.6"/>
<text x="49.4" y="477.0" font-size="2.4" fill="#98A2B3" text-anchor="middle">07-04 11:30</text>
<text x="79" y="477.0" font-size="2.4" fill="#98A2B3" text-anchor="middle">07-04 12:00</text>
<text x="107.8" y="477.0" font-size="2.4" fill="#98A2B3" text-anchor="middle">07-04 12:30</text>
<text x="142" y="414" font-size="5.6" fill="#1A1C21" font-weight="700" textLength="36.9" lengthAdjust="spacingAndGlyphs">Failed Findings</text>
<text x="142.5" y="419.3" font-size="2.5" fill="#1A1C21">CIS Section</text>
<text x="198.7" y="419.3" font-size="2.5" fill="#1A1C21">Findings</text>
<rect x="142" y="422.4" width="109.6" height="0.5" fill="#E6EAF0"/>
<rect x="142" y="431.2" width="109.6" height="0.5" fill="#E6EAF0"/>
<rect x="142" y="439.9" width="109.6" height="0.5" fill="#E6EAF0"/>
<rect x="142" y="448.6" width="109.6" height="0.5" fill="#E6EAF0"/>
<rect x="142" y="457.4" width="109.6" height="0.5" fill="#E6EAF0"/>
<rect x="142" y="465.8" width="109.6" height="0.5" fill="#E6EAF0"/>
<text x="143.8" y="427.9" font-size="2.9" fill="#0767CD">Pod Security Standards</text>
<text x="198.7" y="427.90" font-size="2.9"><tspan fill="#BD271E">23</tspan><tspan fill="#69707D">/350</tspan></text>
<text x="143.8" y="436.6" font-size="2.9" fill="#0767CD">API Server</text>
<text x="198.7" y="436.60" font-size="2.9"><tspan fill="#BD271E">12</tspan><tspan fill="#69707D">/28</tspan></text>
<text x="143.8" y="445.3" font-size="2.9" fill="#0767CD">RBAC and Service Accounts</text>
<text x="198.7" y="445.30" font-size="2.9"><tspan fill="#BD271E">5</tspan><tspan fill="#69707D">/104</tspan></text>
<text x="143.8" y="454.0" font-size="2.9" fill="#0767CD">Kubelet</text>
<text x="198.7" y="454.00" font-size="2.9"><tspan fill="#BD271E">4</tspan><tspan fill="#69707D">/13</tspan></text>
<text x="143.8" y="462.7" font-size="2.9" fill="#0767CD">Controller Manager</text>
<text x="198.7" y="462.70" font-size="2.9"><tspan fill="#BD271E">2</tspan><tspan fill="#69707D">/8</tspan></text>
<rect x="177.3" y="474" width="2.2" height="2.5" fill="none" stroke="#6C9BE6" stroke-width="0.5"/>
<text x="181.5" y="476.6" font-size="2.9" fill="#0767CD" textLength="34.9" lengthAdjust="spacingAndGlyphs">View all failed findings</text>
<text x="264.7" y="414" font-size="5.6" fill="#1A1C21" font-weight="700" textLength="29.6" lengthAdjust="spacingAndGlyphs">Open Cases</text>
<rect x="15" y="489.3" width="281" height="0.5" fill="#ECEFF3"/>
<rect x="16.4" y="490.1" width="72.6" height="70.2" fill="#EDF1FA"/>
<text x="52.8" y="500" font-size="3.2" fill="#1A1C21" font-weight="700" textLength="25.6" lengthAdjust="spacingAndGlyphs" text-anchor="middle">CIS Kubernetes V1.23</text>
<text x="52.8" y="505.7" font-size="3.2" fill="#1A1C21" font-weight="700" textLength="22.4" lengthAdjust="spacingAndGlyphs" text-anchor="middle">Cluster ID eeb88a</text>
<circle cx="42.3" cy="509.9" r="0.9" fill="none" stroke="#98A2B3" stroke-width="0.35"/>
<text x="44.4" y="511" font-size="2.6" fill="#98A2B3" textLength="15.8" lengthAdjust="spacingAndGlyphs">4 minutes ago</text>
<path d="M52.4 528.2l3.8 1.8 0.95 4.1-2.6 3.3h-4.3l-2.6-3.3 0.95-4.1z" fill="#326CE5"/>
<circle cx="52.4" cy="533.1" r="1.9" fill="none" stroke="#fff" stroke-width="0.55"/>
<path d="M52.4 530.4v5.4M50 531.7l4.8 2.8M54.8 531.7l-4.8 2.8" stroke="#fff" stroke-width="0.4"/>
<text x="92.5" y="498.7" font-size="5.6" fill="#1A1C21" font-weight="700" textLength="44.4" lengthAdjust="spacingAndGlyphs">Compliance Score</text>
<path d="M107.71 505.53A6.8 6.8 0 1 1 103.91 503.25" fill="none" stroke="#25896A" stroke-width="1.6"/>
<path d="M103.91 503.25A6.8 6.8 0 0 1 107.71 505.53" fill="none" stroke="#E0574A" stroke-width="1.6"/>
<text x="115.5" y="511.6" font-size="9.8" fill="#1A1C21" font-weight="700" textLength="19" lengthAdjust="spacingAndGlyphs">87%</text>
<text x="115.5" y="515.8" font-size="2.6" fill="#69707D" textLength="33" lengthAdjust="spacingAndGlyphs">527/578 Findings passed</text>
<rect x="92.5" y="522.4" width="136" height="0.5" fill="#E3E7ED"/>
<text x="100.5" y="525.7" font-size="2.5" fill="#98A2B3" text-anchor="end">100%</text>
<path d="M102 524.80H223.1" stroke="#E9ECF1" stroke-width="0.4" stroke-dasharray="1 1"/>
<text x="100.5" y="538.3" font-size="2.5" fill="#98A2B3" text-anchor="end">50%</text>
<path d="M102 537.40H223.1" stroke="#E9ECF1" stroke-width="0.4" stroke-dasharray="1 1"/>
<text x="100.5" y="550.9" font-size="2.5" fill="#98A2B3" text-anchor="end">0%</text>
<path d="M102 550.00H223.1" stroke="#E9ECF1" stroke-width="0.4" stroke-dasharray="1 1"/>
<path d="M108.8 526.80L111.3 527.80H223.1V550H108.8Z" fill="#C3E3D7"/>
<path d="M108.8 526.80L111.3 527.80H223.1" fill="none" stroke="#6DBFA3" stroke-width="0.6"/>
<text x="121.8" y="553.4" font-size="2.4" fill="#98A2B3" text-anchor="middle">07-04 11:30</text>
<text x="166" y="553.4" font-size="2.4" fill="#98A2B3" text-anchor="middle">07-04 12:00</text>
<text x="204.3" y="553.4" font-size="2.4" fill="#98A2B3" text-anchor="middle">07-04 12:30</text>
<rect x="233" y="489.8" width="0.5" height="70" fill="#E3E7ED"/>
<text x="237.1" y="498.7" font-size="5.6" fill="#1A1C21" font-weight="700" textLength="36.9" lengthAdjust="spacingAndGlyphs">Failed Findings</text>
<text x="237.9" y="503.7" font-size="2.5" fill="#1A1C21">CIS Section</text>
<rect x="236.5" y="506.7" width="60" height="0.5" fill="#E6EAF0"/>
<rect x="236.5" y="515.5" width="60" height="0.5" fill="#E6EAF0"/>
<rect x="236.5" y="524" width="60" height="0.5" fill="#E6EAF0"/>
<rect x="236.5" y="532.7" width="60" height="0.5" fill="#E6EAF0"/>
<text x="238.9" y="512.1" font-size="2.9" fill="#0767CD">Pod Security Standards</text>
<text x="238.9" y="520.8" font-size="2.9" fill="#0767CD">API Server</text>
<text x="238.9" y="529.5" font-size="2.9" fill="#0767CD">RBAC and Service Accounts</text>
<rect x="286" y="550.1" width="2.2" height="2.5" fill="none" stroke="#6C9BE6" stroke-width="0.5"/>
<text x="290.2" y="552.7" font-size="2.9" fill="#0767CD">View all failed findings</text>
<rect x="15" y="560.2" width="281" height="0.5" fill="#ECEFF3"/>
</g>
<clipPath id="k4"><rect x="319" y="405" width="281" height="200" rx="4.5"/></clipPath><g clip-path="url(#k4)">
<rect x="319" y="405" width="38.3" height="156.3" fill="#F7F8FC"/>
<text x="323.4" y="410.2" font-size="2.7" fill="#8A919E">Alerts</text>
<text x="323.4" y="415.6" font-size="2.7" fill="#8A919E">Rules</text>
<text x="323.4" y="421.0" font-size="2.7" fill="#8A919E">Exception lists</text>
<text x="323.4" y="428.7" font-size="2.8" fill="#343741" font-weight="700">Explore</text>
<text x="323.4" y="434.4" font-size="2.7" fill="#8A919E">Hosts</text>
<text x="323.4" y="439.8" font-size="2.7" fill="#8A919E">Network</text>
<text x="323.4" y="445.2" font-size="2.7" fill="#8A919E">Users</text>
<text x="323.4" y="452.9" font-size="2.8" fill="#343741" font-weight="700">Investigate</text>
<text x="323.4" y="458.3" font-size="2.7" fill="#8A919E">Timelines</text>
<text x="323.4" y="463.8" font-size="2.7" fill="#8A919E">Cases</text>
<text x="323.4" y="471.5" font-size="2.8" fill="#343741" font-weight="700">Manage</text>
<text x="323.4" y="477.2" font-size="2.7" fill="#8A919E">Endpoints</text>
<text x="323.4" y="482.6" font-size="2.7" fill="#8A919E">Endpoint policies</text>
<text x="323.4" y="488.0" font-size="2.7" fill="#8A919E">Trusted applications</text>
<text x="323.4" y="493.4" font-size="2.7" fill="#8A919E">Event filters</text>
<text x="323.4" y="498.8" font-size="2.7" fill="#8A919E">Host isolation IP exceptions</text>
<text x="323.4" y="504.2" font-size="2.7" fill="#8A919E">Blocklist</text>
<rect x="362.1" y="408.9" width="231.69999999999993" height="76.0" rx="2" fill="#fff" stroke="#E6EAF0" stroke-width="0.7"/>
<text x="366.3" y="417.0" font-size="4.8" fill="#1A1C21" font-weight="700" textLength="30.8" lengthAdjust="spacingAndGlyphs">Host Risk Scores</text>
<circle cx="399.90" cy="415.40" r="1.1" fill="none" stroke="#98A2B3" stroke-width="0.4"/>
<text x="366.3" y="421.09999999999997" font-size="2.5" fill="#98A2B3">Updated 12 minutes ago</text>
<rect x="527.3" y="413.60" width="36.8" height="6.6" rx="0.8" fill="#FBFCFD" stroke="#EEF0F4" stroke-width="0.5"/>
<text x="529.5" y="418.0" font-size="2.5" fill="#69707D">Host risk classification</text>
<text x="561" y="418.0" font-size="2.5" fill="#69707D" text-anchor="middle">∨</text>
<rect x="568" y="413.0" width="21.9" height="7.3" fill="#CCE4F5" rx="0.8"/>
<text x="579" y="417.9" font-size="2.7" fill="#0767CD" font-weight="700" text-anchor="middle">View all</text>
<circle cx="368.3" cy="445.40" r="0.75" fill="#E7664C"/>
<text x="371" y="446.3" font-size="2.7" fill="#69707D">Critical</text>
<circle cx="368.3" cy="449.33" r="0.75" fill="#DA8B45"/>
<text x="371" y="450.23" font-size="2.7" fill="#69707D">High</text>
<circle cx="368.3" cy="453.26" r="0.75" fill="#D6BF57"/>
<text x="371" y="454.16" font-size="2.7" fill="#69707D">Moderate</text>
<circle cx="368.3" cy="457.19" r="0.75" fill="#54B399"/>
<text x="371" y="458.09" font-size="2.7" fill="#69707D">Low</text>
<circle cx="368.3" cy="461.12" r="0.75" fill="#D3DAE6"/>
<text x="371" y="462.02" font-size="2.7" fill="#69707D">Unknown</text>
<path d="M399.00 444.80A10.6 10.6 0 0 1 399.00 466.00" fill="none" stroke="#54B399" stroke-width="2"/>
<path d="M399.00 466.00A10.6 10.6 0 0 1 388.92 458.68" fill="none" stroke="#D6BF57" stroke-width="2"/>
<path d="M388.92 458.68A10.6 10.6 0 0 1 390.88 448.59" fill="none" stroke="#DA8B45" stroke-width="2"/>
<path d="M390.88 448.59A10.6 10.6 0 0 1 399.00 444.80" fill="none" stroke="#E7664C" stroke-width="2"/>
<text x="399" y="455.29999999999995" font-size="3.3" fill="#1A1C21" font-weight="700" text-anchor="middle">898</text>
<text x="399" y="458.9" font-size="3" fill="#0767CD" text-anchor="middle">Total</text>
<text x="425.9" y="436.2" font-size="2.6" fill="#4A4F5A" font-weight="600">Host name</text>
<text x="471" y="436.2" font-size="2.6" fill="#4A4F5A" font-weight="600">Host risk score</text>
<text x="520.4" y="436.2" font-size="2.6" fill="#4A4F5A" font-weight="600">Host risk classification</text>
<circle cx="546.5" cy="435.30" r="0.9" fill="none" stroke="#98A2B3" stroke-width="0.35"/>
<text x="569.1" y="436.2" font-size="2.6" fill="#4A4F5A" font-weight="600">Alerts</text>
<rect x="425" y="438.5" width="165.5" height="0.5" fill="#E6EAF0"/>
<rect x="425" y="446.5" width="165.5" height="0.5" fill="#E6EAF0"/>
<rect x="425" y="454.5" width="165.5" height="0.5" fill="#E6EAF0"/>
<rect x="425" y="462.5" width="165.5" height="0.5" fill="#E6EAF0"/>
<rect x="425" y="470.5" width="165.5" height="0.5" fill="#E6EAF0"/>
<text x="425.9" y="443.5" font-size="2.9" fill="#0767CD">james-fleet-714</text>
<text x="471" y="443.5" font-size="2.9" fill="#69707D">65</text>
<circle cx="522.3" cy="442.40" r="0.75" fill="#D6BF57"/>
<text x="524" y="443.5" font-size="2.8" fill="#69707D">Moderate</text>
<text x="569.5" y="443.5" font-size="2.9" fill="#0767CD">4</text>
<text x="425.9" y="451.45" font-size="2.9" fill="#0767CD">linux-win-host-1</text>
<text x="471" y="451.45" font-size="2.9" fill="#69707D">94</text>
<rect x="520.2" y="448.34999999999997" width="14.6" height="4" fill="#F8D3D0" rx="2"/>
<circle cx="522.3" cy="450.35" r="0.75" fill="#E7664C"/>
<text x="524" y="451.45" font-size="2.8" fill="#A0302A">Critical</text>
<text x="569.5" y="451.45" font-size="2.9" fill="#0767CD">2</text>
<text x="425.9" y="459.4" font-size="2.9" fill="#0767CD">james-fleet-714-2</text>
<text x="471" y="459.4" font-size="2.9" fill="#69707D">23</text>
<circle cx="522.3" cy="458.30" r="0.75" fill="#54B399"/>
<text x="524" y="459.4" font-size="2.8" fill="#69707D">Low</text>
<text x="569.5" y="459.4" font-size="2.9" fill="#0767CD">1</text>
<text x="425.9" y="467.35" font-size="2.9" fill="#0767CD">mobile-lilac</text>
<text x="471" y="467.35" font-size="2.9" fill="#69707D">73</text>
<circle cx="522.3" cy="466.25" r="0.75" fill="#54B399"/>
<text x="524" y="467.35" font-size="2.8" fill="#69707D">Low</text>
<text x="569.5" y="467.35" font-size="2.9" fill="#0767CD">5</text>
<text x="425.9" y="475.3" font-size="2.9" fill="#0767CD">vm1</text>
<text x="471" y="475.3" font-size="2.9" fill="#69707D">94</text>
<rect x="520.2" y="472.2" width="14.6" height="4" fill="#F8D3D0" rx="2"/>
<circle cx="522.3" cy="474.20" r="0.75" fill="#E7664C"/>
<text x="524" y="475.3" font-size="2.8" fill="#A0302A">Critical</text>
<text x="569.5" y="475.3" font-size="2.9" fill="#0767CD">10</text>
<clipPath id="c5"><rect x="319" y="405" width="281" height="156.3"/></clipPath>
<g clip-path="url(#c5)">
<rect x="362.1" y="492.4" width="231.69999999999993" height="76.0" rx="2" fill="#fff" stroke="#E6EAF0" stroke-width="0.7"/>
<text x="366.3" y="501.3" font-size="4.8" fill="#1A1C21" font-weight="700" textLength="30.6" lengthAdjust="spacingAndGlyphs">User Risk Scores</text>
<circle cx="399.70" cy="499.70" r="1.1" fill="none" stroke="#98A2B3" stroke-width="0.4"/>
<text x="366.3" y="505.4" font-size="2.5" fill="#98A2B3">Updated 12 minutes ago</text>
<rect x="527.3" y="501.20" width="36.8" height="6.6" rx="0.8" fill="#FBFCFD" stroke="#EEF0F4" stroke-width="0.5"/>
<text x="529.5" y="505.6" font-size="2.5" fill="#69707D">User risk classification</text>
<text x="561" y="505.6" font-size="2.5" fill="#69707D" text-anchor="middle">∨</text>
<rect x="568" y="500.6" width="21.9" height="7.3" fill="#CCE4F5" rx="0.8"/>
<text x="579" y="505.5" font-size="2.7" fill="#0767CD" font-weight="700" text-anchor="middle">View all</text>
<circle cx="368.3" cy="531.60" r="0.75" fill="#E7664C"/>
<text x="371" y="532.5" font-size="2.7" fill="#69707D">Critical</text>
<circle cx="368.3" cy="535.53" r="0.75" fill="#DA8B45"/>
<text x="371" y="536.43" font-size="2.7" fill="#69707D">High</text>
<circle cx="368.3" cy="539.46" r="0.75" fill="#D6BF57"/>
<text x="371" y="540.36" font-size="2.7" fill="#69707D">Moderate</text>
<circle cx="368.3" cy="543.39" r="0.75" fill="#54B399"/>
<text x="371" y="544.29" font-size="2.7" fill="#69707D">Low</text>
<circle cx="368.3" cy="547.32" r="0.75" fill="#D3DAE6"/>
<text x="371" y="548.22" font-size="2.7" fill="#69707D">Unknown</text>
<path d="M399.00 531.00A10.6 10.6 0 0 1 399.00 552.20" fill="none" stroke="#54B399" stroke-width="2"/>
<path d="M399.00 552.20A10.6 10.6 0 0 1 388.92 544.88" fill="none" stroke="#D6BF57" stroke-width="2"/>
<path d="M388.92 544.88A10.6 10.6 0 0 1 390.88 534.79" fill="none" stroke="#DA8B45" stroke-width="2"/>
<path d="M390.88 534.79A10.6 10.6 0 0 1 399.00 531.00" fill="none" stroke="#E7664C" stroke-width="2"/>
<text x="399" y="541.5" font-size="3.3" fill="#1A1C21" font-weight="700" text-anchor="middle">236</text>
<text x="399" y="545.1" font-size="3" fill="#0767CD" text-anchor="middle">Total</text>
<text x="425.9" y="523.8" font-size="2.6" fill="#4A4F5A" font-weight="600">User name</text>
<text x="471" y="523.8" font-size="2.6" fill="#4A4F5A" font-weight="600">User risk score</text>
<text x="520.4" y="523.8" font-size="2.6" fill="#4A4F5A" font-weight="600">User risk classification</text>
<circle cx="546.5" cy="522.90" r="0.9" fill="none" stroke="#98A2B3" stroke-width="0.35"/>
<text x="569.1" y="523.8" font-size="2.6" fill="#4A4F5A" font-weight="600">Alerts</text>
<rect x="425" y="526.1" width="165.5" height="0.5" fill="#E6EAF0"/>
<rect x="425" y="534.1" width="165.5" height="0.5" fill="#E6EAF0"/>
<rect x="425" y="542.1" width="165.5" height="0.5" fill="#E6EAF0"/>
<rect x="425" y="550.1" width="165.5" height="0.5" fill="#E6EAF0"/>
<rect x="425" y="558.1" width="165.5" height="0.5" fill="#E6EAF0"/>
<text x="425.9" y="531.1" font-size="2.9" fill="#0767CD">james-fleet-714</text>
<text x="471" y="531.1" font-size="2.9" fill="#69707D">65</text>
<circle cx="522.3" cy="530.00" r="0.75" fill="#D6BF57"/>
<text x="524" y="531.1" font-size="2.8" fill="#69707D">Moderate</text>
<text x="569.5" y="531.1" font-size="2.9" fill="#0767CD">4</text>
<text x="425.9" y="539.05" font-size="2.9" fill="#0767CD">ftu-win-host-1</text>
<text x="471" y="539.05" font-size="2.9" fill="#69707D">94</text>
<rect x="520.2" y="535.9499999999999" width="14.6" height="4" fill="#F8D3D0" rx="2"/>
<circle cx="522.3" cy="537.95" r="0.75" fill="#E7664C"/>
<text x="524" y="539.05" font-size="2.8" fill="#A0302A">Critical</text>
<text x="569.5" y="539.05" font-size="2.9" fill="#0767CD">2</text>
<text x="425.9" y="547.0" font-size="2.9" fill="#0767CD">james-fleet-714-3</text>
<text x="471" y="547.0" font-size="2.9" fill="#69707D">23</text>
<circle cx="522.3" cy="545.90" r="0.75" fill="#54B399"/>
<text x="524" y="547.0" font-size="2.8" fill="#69707D">Low</text>
<text x="569.5" y="547.0" font-size="2.9" fill="#0767CD">1</text>
<text x="425.9" y="554.95" font-size="2.9" fill="#0767CD">mobile-lilac</text>
<text x="471" y="554.95" font-size="2.9" fill="#69707D">73</text>
<circle cx="522.3" cy="553.85" r="0.75" fill="#54B399"/>
<text x="524" y="554.95" font-size="2.8" fill="#69707D">Low</text>
<text x="569.5" y="554.95" font-size="2.9" fill="#0767CD">5</text>
<text x="425.9" y="562.9" font-size="2.9" fill="#0767CD">root</text>
<text x="471" y="562.9" font-size="2.9" fill="#69707D">94</text>
<rect x="520.2" y="559.8" width="14.6" height="4" fill="#F8D3D0" rx="2"/>
<circle cx="522.3" cy="561.80" r="0.75" fill="#E7664C"/>
<text x="524" y="562.9" font-size="2.8" fill="#A0302A">Critical</text>
<text x="569.5" y="562.9" font-size="2.9" fill="#0767CD">10</text>
</g>
</g>
<clipPath id="k5"><rect x="623" y="405" width="281" height="200" rx="4.5"/></clipPath><g clip-path="url(#k5)">
<filter id="sh" x="-5%" y="-20%" width="110%" height="150%"><feDropShadow dx="0" dy="0.8" stdDeviation="0.9" flood-color="#98A2B3" flood-opacity="0.35"/></filter>
<rect x="625.9" y="408.9" width="274.5" height="40.9" rx="2" fill="#fff" stroke="#EDF0F4" stroke-width="0.5" filter="url(#sh)"/>
<rect x="631.2" y="413.6" width="36.5" height="13.1" fill="#CCE4F5" rx="1.5"/>
<text x="641.9" y="422" font-size="5.4" fill="#0767CD" textLength="15.1" lengthAdjust="spacingAndGlyphs" text-decoration="underline">Cancel</text>
<text x="673.2" y="422" font-size="5.4" fill="#0767CD" textLength="24.7" lengthAdjust="spacingAndGlyphs">Take action</text>
<path d="M701.8 419.6l1.9 1.9 1.9-1.9" fill="none" stroke="#6C9BE6" stroke-width="0.6"/>
<rect x="631.2" y="429.1" width="101.9" height="0.7" fill="#E3E8F0"/>
<rect x="631.2" y="429" width="23.7" height="0.9" fill="#7DCFB5"/>
<text x="631.2" y="436.7" font-size="5.2" fill="#69707D" textLength="90.6" lengthAdjust="spacingAndGlyphs">Checking: .ds-auditbeat-8.6.0-2023.01.17-</text>
<text x="631.2" y="442.3" font-size="5.2" fill="#69707D" textLength="15.6" lengthAdjust="spacingAndGlyphs">000001</text>
<text x="743.6" y="418.5" font-size="4.4" fill="#69707D" textLength="27.6" lengthAdjust="spacingAndGlyphs">Incompatible</text>
<text x="743.6" y="424.3" font-size="4.4" fill="#69707D">fields</text>
<text x="774.1" y="418.5" font-size="4.4" fill="#69707D">Indices</text>
<text x="774.1" y="424.3" font-size="4.4" fill="#69707D" textLength="18" lengthAdjust="spacingAndGlyphs">checked</text>
<text x="809" y="424.3" font-size="4.4" fill="#69707D" textLength="15.7" lengthAdjust="spacingAndGlyphs">Indices</text>
<text x="844.9" y="424.3" font-size="4.4" fill="#69707D">Docs</text>
<text x="743.4" y="433.5" font-size="8.2" fill="#BD271E" font-weight="700" textLength="8.4" lengthAdjust="spacingAndGlyphs">14</text>
<text x="774.0" y="433.5" font-size="8.2" fill="#1A1C21" font-weight="700">5</text>
<text x="808.8" y="433.5" font-size="8.2" fill="#1A1C21" font-weight="700" textLength="8.4" lengthAdjust="spacingAndGlyphs">17</text>
<text x="844.7" y="433.5" font-size="8.2" fill="#1A1C21" font-weight="700" textLength="34.8" lengthAdjust="spacingAndGlyphs">1,404,514</text>
<path d="M632.6 469.5l2 2M634.6 469.5l-2 2" stroke="#E7664C" stroke-width="0.5"/>
<text x="639.1" y="469.1" font-size="7.6" fill="#1A1C21" font-weight="700" textLength="79.9" lengthAdjust="spacingAndGlyphs">.alerts-security.alerts-</text>
<text x="639.1" y="476.7" font-size="7.6" fill="#1A1C21" font-weight="700" textLength="24.5" lengthAdjust="spacingAndGlyphs">default</text>
<rect x="631.5" y="480" width="17.5" height="5.1" rx="0.8" fill="#fff" stroke="#E3E7ED" stroke-width="0.5"/>
<text x="633.2" y="483.7" font-size="3" fill="#69707D">hot (1)</text>
<text x="743.6" y="468.2" font-size="4.4" fill="#69707D" textLength="27.6" lengthAdjust="spacingAndGlyphs">Incompatible</text>
<text x="743.6" y="474.7" font-size="4.4" fill="#69707D">fields</text>
<text x="774.1" y="468.2" font-size="4.4" fill="#69707D">Indices</text>
<text x="774.1" y="474.7" font-size="4.4" fill="#69707D" textLength="18" lengthAdjust="spacingAndGlyphs">checked</text>
<text x="809" y="474.7" font-size="4.4" fill="#69707D" textLength="15.7" lengthAdjust="spacingAndGlyphs">Indices</text>
<text x="844.9" y="474.7" font-size="4.4" fill="#69707D">Docs</text>
<text x="743.4" y="483.6" font-size="8.2" fill="#BD271E" font-weight="700" textLength="4.2" lengthAdjust="spacingAndGlyphs">1</text>
<text x="774.0" y="483.6" font-size="8.2" fill="#1A1C21" font-weight="700">1</text>
<text x="808.8" y="483.6" font-size="8.2" fill="#1A1C21" font-weight="700" textLength="4.2" lengthAdjust="spacingAndGlyphs">1</text>
<text x="844.7" y="483.6" font-size="8.2" fill="#1A1C21" font-weight="700">1,837</text>
<text x="645.3" y="498.6" font-size="3" fill="#1A1C21" font-weight="700">Result</text>
<text x="662" y="498.6" font-size="3" fill="#1A1C21" font-weight="700">Index</text>
<text x="760.2" y="498.6" font-size="3" fill="#1A1C21" font-weight="700">Docs</text>
<text x="805.8" y="498.6" font-size="3" fill="#1A1C21" font-weight="700">Incompatible fields</text>
<text x="851.2" y="498.6" font-size="3" fill="#1A1C21" font-weight="700">ILM Phase</text>
<rect x="631" y="501.4" width="265" height="0.5" fill="#E6EAF0"/>
<text x="638.2" y="508.4" font-size="5" fill="#0767CD" font-weight="700">›</text>
<path d="M647.2 505.8l2.2 2.2M649.4 505.8l-2.2 2.2" stroke="#E7664C" stroke-width="0.55"/>
<text x="662.4" y="508.2" font-size="3.3" fill="#69707D" textLength="86.2" lengthAdjust="spacingAndGlyphs">.internal.alerts-security.alerts-default-000001</text>
<text x="760.2" y="506.7" font-size="2.9" fill="#69707D">1,837</text>
<text x="803" y="506.7" font-size="2.9" fill="#54B399" text-anchor="end">100.0%</text>
<rect x="760.2" y="508.2" width="42.8" height="1.7" fill="#1E9A82" rx="0.6"/>
<text x="807" y="508.3" font-size="3.2" fill="#BD271E" font-weight="700">1</text>
<rect x="851.6" y="505.2" width="11.8" height="4.8" rx="0.8" fill="#fff" stroke="#E3E7ED" stroke-width="0.5"/>
<text x="857.5" y="508.6" font-size="3" fill="#69707D" text-anchor="middle">hot</text>
<rect x="631" y="512.3" width="265" height="0.5" fill="#E6EAF0"/>
<text x="633.7" y="539.6" font-size="7.6" fill="#1A1C21" font-weight="700" textLength="41.3" lengthAdjust="spacingAndGlyphs">auditbeat-*</text>
<rect x="632.1" y="543.6" width="18.2" height="4.6" rx="0.8" fill="#fff" stroke="#E3E7ED" stroke-width="0.5"/>
<text x="633.6" y="547.1" font-size="2.9" fill="#69707D">hot (11)</text>
<rect x="653.7" y="543.6" width="33.6" height="4.6" rx="0.8" fill="#fff" stroke="#E3E7ED" stroke-width="0.5"/>
<text x="655.4" y="547.1" font-size="2.9" fill="#69707D">unmanaged (1)</text>
<text x="743.6" y="534.6" font-size="4.4" fill="#69707D" textLength="27.6" lengthAdjust="spacingAndGlyphs">Incompatible</text>
<text x="743.6" y="542.4" font-size="4.4" fill="#69707D">fields</text>
<text x="774.1" y="534.6" font-size="4.4" fill="#69707D">Indices</text>
<text x="774.1" y="542.4" font-size="4.4" fill="#69707D" textLength="18" lengthAdjust="spacingAndGlyphs">checked</text>
<text x="809" y="542.4" font-size="4.4" fill="#69707D" textLength="15.7" lengthAdjust="spacingAndGlyphs">Indices</text>
<text x="844.9" y="542.4" font-size="4.4" fill="#69707D">Docs</text>
<text x="743.4" y="550.5" font-size="8.2" fill="#BD271E" font-weight="700" textLength="8.4" lengthAdjust="spacingAndGlyphs">13</text>
<text x="774.0" y="550.5" font-size="8.2" fill="#1A1C21" font-weight="700">4</text>
<text x="808.8" y="550.5" font-size="8.2" fill="#1A1C21" font-weight="700" textLength="8.4" lengthAdjust="spacingAndGlyphs">12</text>
<text x="844.7" y="550.5" font-size="8.2" fill="#1A1C21" font-weight="700" textLength="23.2" lengthAdjust="spacingAndGlyphs">29,182</text>
<rect x="645" y="560.6" width="8" height="0.8" fill="#E3E7ED"/>
<rect x="662" y="560.6" width="20" height="0.8" fill="#E3E7ED"/>
<rect x="760" y="560.6" width="10" height="0.8" fill="#E3E7ED"/>
<rect x="806" y="560.6" width="25" height="0.8" fill="#E3E7ED"/>
<rect x="851" y="560.6" width="10" height="0.8" fill="#E3E7ED"/>
</g>
<text x="28.0" y="298" font-size="14.8" fill="#0767CD" font-weight="700" textLength="66.5" lengthAdjust="spacingAndGlyphs">Overview</text>
<text x="29" y="322.5" font-size="11.4" fill="#343741">Summary of your security environment activity,</text>
<text x="29" y="341.55" font-size="11.4" fill="#343741" textLength="247.9" lengthAdjust="spacingAndGlyphs">including alerts, events, recent items, and a news</text>
<text x="29" y="360.6" font-size="11.4" fill="#343741">feed!</text>
<text x="332.0" y="298" font-size="14.8" fill="#0767CD" font-weight="700" textLength="153.6" lengthAdjust="spacingAndGlyphs">Detection &amp; Response</text>
<text x="333" y="322.5" font-size="11.4" fill="#343741">Information about your Alerts and Cases within</text>
<text x="333" y="341.55" font-size="11.4" fill="#343741" textLength="241.4" lengthAdjust="spacingAndGlyphs">the Security Solution, including Hosts and Users</text>
<text x="333" y="360.6" font-size="11.4" fill="#343741" textLength="57.4" lengthAdjust="spacingAndGlyphs">with Alerts.</text>
<text x="636.5" y="295.9" font-size="14.8" fill="#0767CD" font-weight="700" textLength="80.4" lengthAdjust="spacingAndGlyphs">Kubernetes</text>
<rect x="725.6" y="282.6" width="41.5" height="16.899999999999977" rx="8.449999999999989" fill="#fff" stroke="#D3DAE6" stroke-width="1"/>
<text x="746.35" y="292.8" font-size="8.2" fill="#2B2E35" font-weight="700" text-anchor="middle">BETA</text>
<text x="637.5" y="321.6" font-size="11.4" fill="#343741">Provides interactive visualizations of your</text>
<text x="637.5" y="340.65" font-size="11.4" fill="#343741">Kubernetes workload and session data.</text>
<text x="28.0" y="592.3" font-size="14.8" fill="#0767CD" font-weight="700" textLength="160.6" lengthAdjust="spacingAndGlyphs">Cloud Security Posture</text>
<text x="29" y="617.9" font-size="11.4" fill="#343741" textLength="191.8" lengthAdjust="spacingAndGlyphs">An overview of findings across all CSP</text>
<text x="29" y="636.95" font-size="11.4" fill="#343741" textLength="64.1" lengthAdjust="spacingAndGlyphs">integrations.</text>
<text x="332.0" y="592.3" font-size="14.8" fill="#0767CD" font-weight="700" textLength="109.8" lengthAdjust="spacingAndGlyphs">Entity Analytics</text>
<text x="333" y="617.9" font-size="11.4" fill="#343741">Entity analytics, notable anomalies, and threats to</text>
<text x="333" y="636.95" font-size="11.4" fill="#343741">narrow down the monitoring surface area.</text>
<text x="636.6" y="592.3" font-size="14.8" fill="#0767CD" font-weight="700" textLength="85.3" lengthAdjust="spacingAndGlyphs">Data Quality</text>
<rect x="729.5" y="578.8" width="42.10000000000002" height="16.700000000000045" rx="8.350000000000023" fill="#fff" stroke="#D3DAE6" stroke-width="1"/>
<text x="750.55" y="588.8" font-size="8.2" fill="#2B2E35" font-weight="700" text-anchor="middle">BETA</text>
<text x="637.5" y="617.9" font-size="11.4" fill="#343741" textLength="188.0" lengthAdjust="spacingAndGlyphs">Check index mappings and values for</text>
<text x="637.5" y="636.95" font-size="11.4" fill="#343741">compatibility with the Elastic Common Schema</text>
<text x="637.5" y="656.0" font-size="11.4" fill="#343741" textLength="28.4" lengthAdjust="spacingAndGlyphs">(ECS)</text>
<text x="13.7" y="722" font-size="10.25" fill="#1A1C21" font-weight="700" textLength="46.4" lengthAdjust="spacingAndGlyphs">CUSTOM</text>
<rect x="14" y="736" width="895.5" height="2" fill="#DFE4EC"/>
<path d="M14.5 797V766.5a4 4 0 0 1 4-4H904a4 4 0 0 1 4 4V797" fill="#FFFFFF" stroke="#ECEFF3" stroke-width="1"/>
<rect x="14.5" y="795" width="893.5" height="2" fill="#0B6BCB"/>
<path d="M30.5 784.7A5.7 5.7 0 1 1 34.5 783L37.6 786.3" fill="none" stroke="#343741" stroke-width="1.1"/>
<text x="49.1" y="783.7" font-size="12.5" fill="#343741" textLength="50" lengthAdjust="spacingAndGlyphs">Search...</text>
<rect x="100.6" y="772" width="1" height="15" fill="#1A1C21"/>
<circle cx="891.3" cy="780" r="7.2" fill="#8F9AAC"/>
<path d="M888.8 777.5l5 5M893.8 777.5l-5 5" stroke="#fff" stroke-width="1.6"/>
<text x="21.1" y="836.1" font-size="11.2" fill="#1A1C21" font-weight="700">Title</text>
<path d="M53.5 829v9M49 833.5L53.5 829l4.5 4.5" fill="none" stroke="#343741" stroke-width="1"/>
<text x="319.3" y="836.1" font-size="11.2" fill="#1A1C21" font-weight="700" textLength="59.3" lengthAdjust="spacingAndGlyphs">Description</text>
<text x="617.8" y="836.1" font-size="11.2" fill="#1A1C21" font-weight="700">Tags</text>
<rect x="14" y="847" width="895.5" height="1" fill="#D3DAE6"/>
<text x="417.3" y="869.7" font-size="12.5" fill="#343741" textLength="87.9" lengthAdjust="spacingAndGlyphs">No items found</text>
<rect x="14" y="883" width="895.5" height="2" fill="#E4E8F0"/>
<rect x="0" y="0" width="921" height="1" fill="#000"/>
<rect x="0" y="0" width="1" height="892" fill="#000"/>
<rect x="920" y="0" width="1" height="892" fill="#000"/>
<rect x="0" y="891" width="921" height="1" fill="#000"/>
</svg>
</body></html>
